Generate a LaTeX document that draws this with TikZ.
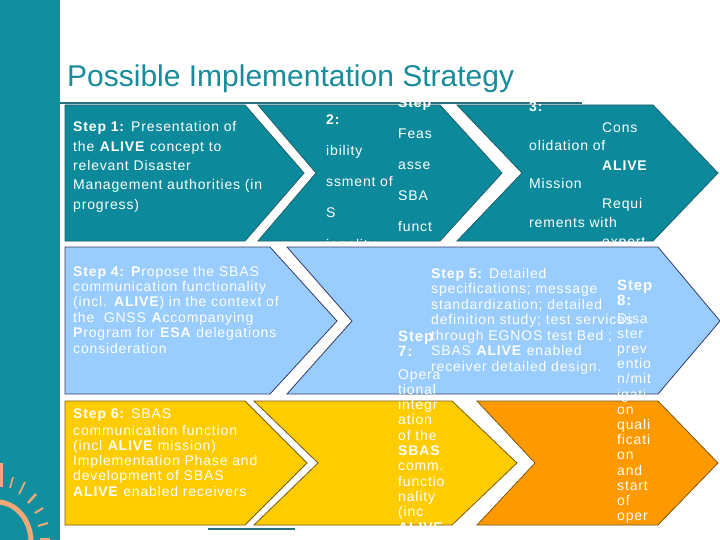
\documentclass[tikz,border=0pt]{standalone}
\usepackage{fontspec}
\setmainfont{Liberation Sans}[LetterSpace=6]
\newfontfamily\titlefont{Liberation Sans}
\definecolor{band}{RGB}{18,143,158}
\definecolor{titlec}{RGB}{24,140,155}
\definecolor{rowA}{RGB}{12,138,155}
\definecolor{rowAedge}{RGB}{30,95,105}
\definecolor{rowB}{RGB}{153,204,255}
\definecolor{rowBedge}{RGB}{50,60,100}
\definecolor{rowC}{RGB}{255,204,0}
\definecolor{rowCedge}{RGB}{120,90,20}
\definecolor{rowD}{RGB}{255,153,0}
\definecolor{sunc}{RGB}{244,168,120}
\definecolor{rulec}{RGB}{40,110,125}
\tikzset{
  txt/.style={anchor=base west, inner sep=0, text=white, font=\fontsize{14}{16}\selectfont},
  bigtxt/.style={txt, font=\fontsize{15}{17}\selectfont\bfseries},
  boxA/.style={fill=rowA, draw=rowAedge, line width=0.8pt},
  boxB/.style={fill=rowB, draw=rowBedge, line width=0.8pt},
  boxC/.style={fill=rowC, draw=rowCedge, line width=0.8pt},
  boxD/.style={fill=rowD, draw=rowCedge, line width=0.8pt},
  ray/.style={draw=sunc, line cap=butt}
}
\newcommand\linesat[5]{%
  \foreach \ltext [count=\k] in {#5} {\node[txt] (#1\k) at (#2,{#3+#4*(\k-1)}) {\ltext};}%
}
\begin{document}
\begin{tikzpicture}[x=1pt,y=-1pt]
\useasboundingbox (0,0) rectangle (720,540);
\fill[white] (0,0) rectangle (720,540);
\fill[band] (0,0) rectangle (60,540);
% sun
\draw[sunc, line width=5pt] plot[domain=-100:0, samples=30] ({-3+34*cos(\x)},{542+40*sin(\x)});
\draw[ray, line width=3pt] (1.5,463) -- (1.5,487);
\draw[ray, line width=1.6pt] (10,488) -- (13,477);
\draw[ray, line width=1.6pt] (19,494) -- (25,482);
\draw[ray, line width=2.5pt] (28,503) -- (36,494);
\draw[ray, line width=2pt] (35,513) -- (43,508);
\draw[ray, line width=2pt] (38,526) -- (48,523);
\draw[ray, line width=3pt] (40,539) -- (50,539);
% title
\node[anchor=base west, inner sep=0, text=titlec, font=\titlefont\fontsize{30}{32}\selectfont] (title) at (67,87) {Possible Implementation Strategy};
\draw[rulec, line width=2pt] (60,103) -- (582,103);
% row 1
\draw[boxA] (65,105) -- (245,105) -- (304,173) -- (245,241) -- (65,241) -- cycle;
\draw[boxA] (258,105) -- (440,105) -- (502,173) -- (440,241) -- (258,241) -- (316,173) -- cycle;
\draw[boxA] (457,105) -- (653,105) -- (718,173) -- (653,241) -- (457,241) -- (522,173) -- cycle;
\linesat{sa}{73}{132}{19.3}{{\textbf{Step 1:} Presentation of}, {the \textbf{ALIVE} concept to}, {relevant Disaster}, {Management authorities (in}, {progress)}}
\linesat{sbl}{326}{125}{31}{\textbf{2:}, ibility, ssment of, S, ionality}
\linesat{sbr}{398}{108}{31}{\textbf{Step}, Feas, asse, SBA, funct}
\linesat{scl}{529}{112}{38.5}{\textbf{3:}, olidation of, Mission, rements with}
\linesat{scr}{602}{133}{38}{Cons, \textbf{ALIVE}, Requi, expert}
% row 2
\draw[boxB] (65,247) -- (270,247) -- (337,321) -- (270,394) -- (65,394) -- cycle;
\draw[boxB] (287,247) -- (658,247) -- (720,321) -- (658,394) -- (287,394) -- (352,321) -- cycle;
% row 3
\draw[boxC] (65,401) -- (245,401) -- (307,463) -- (245,525) -- (65,525) -- cycle;
\draw[boxC] (254,401) -- (452,401) -- (517,463) -- (452,525) -- (254,525) -- (318,463) -- cycle;
\draw[boxD] (477,401) -- (658,401) -- (718,463) -- (658,525) -- (477,525) -- (535,463) -- cycle;
\draw[rulec, line width=1.5pt] (208,529) -- (295,529);
% row 2/3 texts
\linesat{sd}{73}{276}{15.4}{{\textbf{Step 4:} \textbf{P}ropose the SBAS}, {communication functionality}, {(incl. \textbf{ALIVE}) in the context of}, {the~ GNSS \textbf{A}ccompanying}, {\textbf{P}rogram for \textbf{ESA} delegations}, {consideration}}
\linesat{se}{431}{278}{15.5}{{\textbf{Step 5:} Detailed}, {specifications; message}, {standardization; detailed}, {definition study; test services}, {through EGNOS test Bed ;}, {SBAS \textbf{ALIVE} enabled}, {receiver detailed design.}}
\node[txt] (sf0) at (73,418) {\textbf{Step 6:} SBAS};
\linesat{sf}{73}{435}{15.3}{{communication function}, {(incl \textbf{ALIVE} mission)}, {Implementation Phase and}, {development of SBAS}, {\textbf{ALIVE} enabled receivers}}
\node[bigtxt] (sg0) at (398,341) {Step};
\node[bigtxt] (sgn) at (398,356) {7:};
\linesat{sg}{398}{379}{15.3}{Opera, tional, integr, ation, of the, \textbf{SBAS}, comm., functio, nality, {(inc}, \textbf{ALIVE}}
\node[bigtxt] (sh0) at (617,290) {Step};
\node[bigtxt] (shn) at (617,305) {8:};
\linesat{sh}{617}{323}{15.2}{Disa, ster, prev, entio, n/mit, igati, on, quali, ficati, on, and, start, of, oper}
\end{tikzpicture}
\end{document}
